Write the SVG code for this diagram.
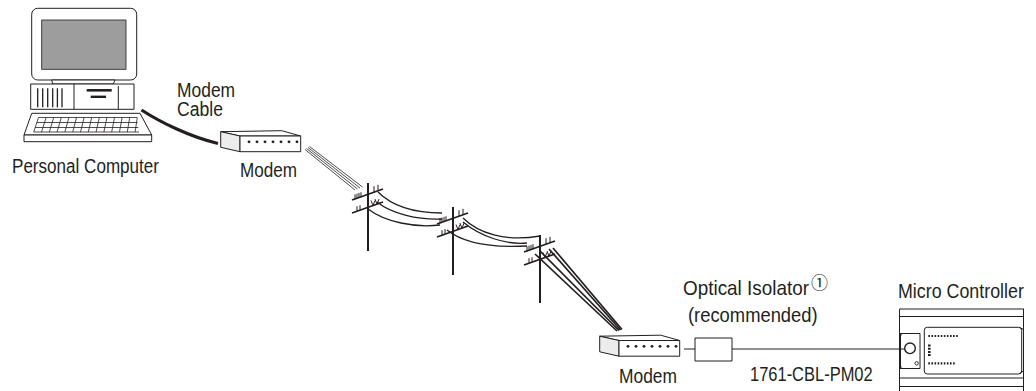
<svg xmlns="http://www.w3.org/2000/svg" width="1036" height="391" viewBox="0 0 1036 391">
  <style>
    .ln { fill: none; stroke: #231f20; stroke-width: 1; }
    .thin { fill: none; stroke: #231f20; stroke-width: 0.8; }
    .face { fill: #ffffff; stroke: #231f20; stroke-width: 1; stroke-linejoin: round; }
    .side { fill: #ececec; stroke: #231f20; stroke-width: 1; stroke-linejoin: round; }
    .dot { fill: #231f20; }
    .lbl { font-family: "Liberation Sans", Arial, Helvetica, sans-serif; font-size: 21px; fill: #231f20; }
    .mark { font-family: "Noto Sans CJK JP", "DejaVu Sans", sans-serif; font-size: 17px; fill: #231f20; }
    .wire { fill: none; stroke: #231f20; stroke-width: 1.3; }
    .drop { fill: none; stroke: #231f20; stroke-width: 1.7; }
  </style>
  <defs>
    <!-- desktop modem box, origin at top-left corner of the front face -->
    <g id="modem-box">
      <polygon class="face" points="-19.3,-4.3 41.7,-5.3 60.7,0 0,0"/>
      <polygon class="side" points="-19.3,-4.3 0,0 0,15.7 -19.3,11.3"/>
      <rect class="face" x="0" y="0" width="60.7" height="15.7"/>
      <g class="dot">
        <circle cx="9" cy="5.8" r="1.4"/>
        <circle cx="17" cy="5.8" r="1.4"/>
        <circle cx="25" cy="5.8" r="1.4"/>
        <circle cx="33" cy="5.8" r="1.4"/>
        <circle cx="41" cy="5.8" r="1.4"/>
        <circle cx="49" cy="5.8" r="1.4"/>
        <circle cx="57" cy="5.8" r="1.4"/>
      </g>
    </g>
    <!-- telephone pole, origin at the top of the mast -->
    <g id="pole-shape">
      <line x1="0" y1="0" x2="0" y2="68" stroke="#231f20" stroke-width="2"/>
      <line x1="-16" y1="17" x2="15" y2="6" stroke="#231f20" stroke-width="1.8"/>
      <line x1="-16" y1="30" x2="15" y2="19" stroke="#231f20" stroke-width="1.8"/>
      <path class="ln" stroke-width="1.2" d="M-13,16.3 v-5 M-11,15.6 v-5 M-9,14.9 v-5 M-7,14.2 v-5 M6,9.2 v-6 M10,7.8 v-6 M-11,28.2 v-5 M-8,27.2 v-5 M5,22.5 l-2,-5 M5,22.5 l2,-5 M9,21.1 l-2,-5 M9,21.1 l2,-5"/>
    </g>
  </defs>

  <!-- personal computer -->
  <g id="personal-computer">
    <rect class="face" x="31.7" y="8.3" width="105" height="71.7" rx="6"/>
    <rect x="41.7" y="20" width="84.3" height="49.3" fill="#9d9d9d" stroke="#231f20" stroke-width="0.8"/>
    <polygon class="face" points="51.7,80 115,80 113.3,84 52.7,84"/>
    <rect class="face" x="30.7" y="84" width="103.3" height="25.3"/>
    <line class="ln" x1="74" y1="84" x2="74" y2="109.3"/>
    <line class="ln" x1="118.3" y1="86" x2="118.3" y2="109.3"/>
    <g stroke="#231f20" stroke-width="1.3">
      <line x1="37.7" y1="88.3" x2="37.7" y2="107.3"/>
      <line x1="42.7" y1="88.3" x2="42.7" y2="107.3"/>
      <line x1="47.7" y1="88.3" x2="47.7" y2="107.3"/>
      <line x1="52.7" y1="88.3" x2="52.7" y2="107.3"/>
      <line x1="57.4" y1="88.3" x2="57.4" y2="107.3"/>
      <line x1="62" y1="88.3" x2="62" y2="107.3"/>
    </g>
    <rect x="86.7" y="89" width="25" height="2.6" fill="#231f20"/>
    <rect x="90.7" y="95.6" width="15.3" height="2.4" fill="#231f20"/>
    <polygon class="face" points="31.7,113.3 140,113.3 151.7,135 24,135"/>
    <rect class="face" x="24" y="135" width="127.7" height="6.7"/>
    <path class="thin" d="M38.5,117.5 H137 M36.8,122.5 H137.6 M35.2,127.5 H138.3 M33.7,132 H139
      M38.5,117.5 L33.7,132 M46.1,117.5 L41.5,132 M53.7,117.5 L49.3,132 M61.3,117.5 L57.1,132
      M68.9,117.5 L64.9,132 M76.5,117.5 L72.7,132 M84.1,117.5 L80.5,132 M91.7,117.5 L88.3,132
      M99.3,117.5 L96.1,132 M106.9,117.5 L103.9,132 M114.5,117.5 L111.7,132 M122.1,117.5 L119.5,132
      M129.7,117.5 L127.3,132 M137.3,117.5 L135.1,132"/>
    <text class="lbl" transform="translate(12 173) scale(0.813 1)">Personal Computer</text>
  </g>

  <!-- local modem -->
  <g id="modem-local">
    <use href="#modem-box" x="240" y="136"/>
    <text class="lbl" transform="translate(240 177) scale(0.815 1)">Modem</text>
  </g>

  <!-- telephone poles -->
  <g id="pole-1"><use href="#pole-shape" x="368" y="183"/></g>
  <g id="pole-2"><use href="#pole-shape" x="453" y="207"/></g>
  <g id="pole-3"><use href="#pole-shape" x="540" y="235"/></g>

  <!-- remote modem -->
  <g id="modem-remote">
    <use href="#modem-box" x="619" y="340.5"/>
    <text class="lbl" transform="translate(619 383) scale(0.829 1)">Modem</text>
  </g>

  <!-- optical isolator -->
  <g id="optical-isolator">
    <rect class="face" x="695" y="338" width="37" height="23"/>
    <text class="lbl" transform="translate(683 295) scale(0.9 1)">Optical Isolator</text>
    <text class="mark" x="811" y="289">①</text>
    <text class="lbl" transform="translate(688 322) scale(0.875 1)">(recommended)</text>
  </g>

  <!-- micro controller -->
  <g id="micro-controller">
    <text class="lbl" transform="translate(898 298) scale(0.85 1)">Micro Controller</text>
    <path class="ln" d="M899.5,309 V391 M1023.5,309 V391 M899.5,309 H1024 M899.5,316.5 H1024 M899.5,378 H1024 M899.5,386.5 H1024"/>
    <rect class="face" x="900.5" y="333.5" width="19.5" height="35"/>
    <circle cx="910" cy="348.3" r="5.3" fill="#fff" stroke="#231f20" stroke-width="1.4"/>
    <circle cx="916.7" cy="363.3" r="1.7" fill="#fff" stroke="#231f20" stroke-width="0.9"/>
    <rect class="face" x="924.3" y="327.3" width="97.4" height="46.7" rx="3"/>
    <rect x="899" y="333" width="2.5" height="2.5" fill="#231f20"/>
    <rect x="899" y="366.5" width="2.5" height="2.5" fill="#231f20"/>
    <path class="ln" d="M1019.5,327.5 L1023.5,329.5 M1019.5,373.5 L1023.5,371"/>
    <line x1="928.3" y1="336" x2="959.3" y2="336" stroke="#231f20" stroke-width="2.2" stroke-dasharray="1.6 1.5"/>
    <line x1="929.3" y1="344.5" x2="929.3" y2="357" stroke="#231f20" stroke-width="2.6" stroke-dasharray="2 1.2"/>
    <line x1="928.3" y1="363.3" x2="955" y2="363.3" stroke="#231f20" stroke-width="2.2" stroke-dasharray="1.6 1.5"/>
  </g>

  <!-- cables and phone lines -->
  <g id="connectors">
    <path d="M141.5,110 C160,122 190,137 218,143.5" fill="none" stroke="#231f20" stroke-width="3.2"/>
    <g class="thin">
      <line x1="305" y1="149.5" x2="355" y2="190"/>
      <line x1="306.5" y1="148.5" x2="357.5" y2="189"/>
      <line x1="308" y1="147.5" x2="360" y2="188"/>
      <line x1="309.5" y1="146.5" x2="362.5" y2="187"/>
    </g>
    <path class="wire" d="M378,192 C392,206 415,213 442,213"/>
    <path class="wire" d="M377,202 C392,214 418,220 442,219"/>
    <path class="wire" d="M368,209 C385,222 415,228 440,225"/>
    <path class="wire" d="M463,218 C478,233 505,242 540,236"/>
    <path class="wire" d="M463,222 C480,236 505,245 527,243"/>
    <path class="wire" d="M447,230 C462,242 490,248 527,246"/>
    <g class="drop">
      <line x1="535" y1="254" x2="617" y2="331"/>
      <line x1="540" y1="251" x2="619" y2="330.5"/>
      <line x1="549" y1="249" x2="620.5" y2="330"/>
      <line x1="553" y1="248" x2="622" y2="329.5"/>
    </g>
    <line class="ln" x1="684" y1="349" x2="695" y2="349"/>
    <line class="ln" x1="732" y1="349" x2="905" y2="349"/>
    <text class="lbl" transform="translate(750 381) scale(0.785 1)">1761-CBL-PM02</text>
  </g>
  <g id="cable-label">
    <text class="lbl" transform="translate(177 97) scale(0.83 1)">Modem</text>
    <text class="lbl" transform="translate(177 116) scale(0.838 1)">Cable</text>
  </g>
</svg>
